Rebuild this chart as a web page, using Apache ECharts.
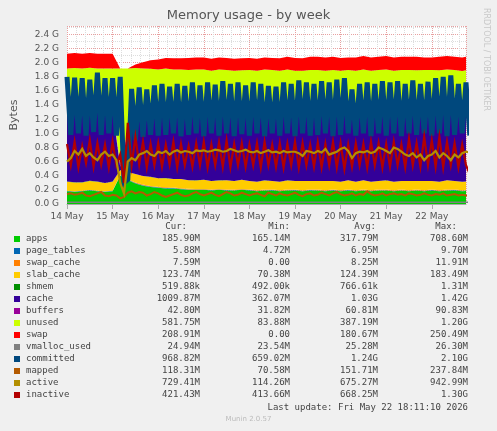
<!DOCTYPE html>
<html><head><meta charset="utf-8">
<script src="https://cdn.jsdelivr.net/npm/echarts@6/dist/echarts.min.js"></script>
<style>html,body{margin:0;padding:0;background:#F0F0F0}#c{width:497px;height:431px}</style>
</head><body><div id="c"></div>
<script>
// ---- data (values in G bytes) ----
const names = ['apps','page_tables','swap_cache','slab_cache','shmem','cache','buffers','unused','swap','vmalloc_used','committed','mapped','active','inactive'];
const colors = ['#00CC00','#0066B3','#FF8000','#FFCC00','#008F00','#330099','#990099','#CCFF00','#FF0000','#808080','#00487D','#B35A00','#B38F00','#B30000'];
const curVals = ['185.90M','5.88M','7.59M','123.74M','519.88k','1009.87M','42.80M','581.75M','208.91M','24.94M','968.82M','118.31M','729.41M','421.43M'];
const minVals = ['165.14M','4.72M','0.00','70.38M','492.00k','362.07M','31.82M','83.88M','0.00','23.54M','659.02M','70.58M','114.26M','413.66M'];
const avgVals = ['317.79M','6.95M','8.25M','124.39M','766.61k','1.03G','60.81M','387.19M','180.67M','25.28M','1.24G','151.71M','675.27M','668.25M'];
const maxVals = ['708.60M','9.70M','11.91M','183.49M','1.31M','1.42G','90.83M','1.20G','250.49M','26.30M','2.10G','237.84M','942.99M','1.30G'];

// stacked series, one sample every 4 hours from 14 May 00:00
const apps = [0.18,0.17,0.18,0.19,0.18,0.17, 0.18,0.40,0.34,0.29,0.26,0.24, 0.23,0.22,0.22,0.21,0.20,0.20, 0.20,0.19,0.20,0.19,0.19,0.20, 0.19,0.18,0.19,0.19,0.18,0.19, 0.19,0.18,0.19,0.19,0.18,0.19, 0.18,0.19,0.18,0.19,0.18,0.19, 0.19,0.18,0.19,0.18,0.19,0.18, 0.19,0.18,0.19,0.19,0.18,0.19];
const page_tables = [0.006,0.006,0.006,0.007,0.006,0.006, 0.006,0.005,0.006,0.006,0.007,0.006, 0.006,0.007,0.006,0.006,0.007,0.006, 0.006,0.007,0.006,0.007,0.006,0.006, 0.007,0.006,0.006,0.007,0.006,0.006, 0.007,0.006,0.007,0.006,0.006,0.007, 0.006,0.007,0.006,0.006,0.007,0.006, 0.006,0.007,0.006,0.007,0.006,0.006, 0.007,0.006,0.006,0.007,0.006,0.006];
const swap_cache = [0.000,0.000,0.000,0.000,0.000,0.000, 0.000,0.002,0.006,0.008,0.009,0.008, 0.008,0.009,0.008,0.008,0.009,0.008, 0.008,0.009,0.008,0.008,0.009,0.008, 0.008,0.009,0.008,0.009,0.008,0.008, 0.009,0.008,0.008,0.009,0.008,0.008, 0.009,0.008,0.008,0.009,0.008,0.009, 0.008,0.008,0.009,0.008,0.008,0.009, 0.008,0.008,0.009,0.008,0.008,0.008];
const slab_cache = [0.13,0.13,0.12,0.13,0.13,0.12, 0.13,0.07,0.10,0.12,0.12,0.13, 0.12,0.13,0.12,0.13,0.12,0.12, 0.13,0.12,0.12,0.13,0.12,0.13, 0.12,0.12,0.13,0.12,0.12,0.13, 0.12,0.13,0.12,0.12,0.13,0.12, 0.12,0.13,0.12,0.13,0.12,0.12, 0.13,0.12,0.12,0.13,0.12,0.13, 0.12,0.12,0.13,0.12,0.12,0.12];
const shmem = [0.0008,0.0008,0.0008,0.0008,0.0008,0.0008, 0.0008,0.0006,0.0006,0.0007,0.0007,0.0008, 0.0008,0.0007,0.0008,0.0007,0.0008,0.0007, 0.0008,0.0007,0.0008,0.0007,0.0008,0.0007, 0.0008,0.0007,0.0008,0.0007,0.0008,0.0007, 0.0008,0.0007,0.0008,0.0007,0.0008,0.0007, 0.0008,0.0007,0.0008,0.0007,0.0008,0.0007, 0.0008,0.0007,0.0008,0.0007,0.0008,0.0007, 0.0008,0.0007,0.0006,0.0005,0.0005,0.0005];
const cache = [1.00,1.01,1.00,1.02,1.01,1.00, 1.00,0.05,0.55,0.85,0.95,0.97, 0.98,0.99,1.00,0.99,1.00,1.01, 1.00,0.99,1.01,1.00,0.99,1.00, 1.01,1.00,0.99,1.00,1.01,1.00, 0.99,1.00,1.01,1.00,0.99,1.00, 1.01,1.00,0.99,1.01,1.00,0.99, 1.00,1.01,1.00,0.99,1.00,1.01, 1.00,0.99,1.01,1.00,1.01,1.01];
const buffers = [0.04,0.04,0.04,0.05,0.04,0.04, 0.04,0.03,0.035,0.04,0.04,0.04, 0.04,0.05,0.04,0.04,0.04,0.05, 0.04,0.04,0.05,0.04,0.04,0.04, 0.05,0.04,0.04,0.04,0.05,0.04, 0.04,0.04,0.05,0.04,0.04,0.04, 0.05,0.04,0.04,0.04,0.05,0.04, 0.04,0.05,0.04,0.04,0.04,0.05, 0.04,0.04,0.04,0.05,0.04,0.04];
const unused = [0.56,0.57,0.57,0.53,0.55,0.58, 0.56,1.36,0.88,0.61,0.53,0.52, 0.52,0.51,0.51,0.52,0.52,0.51, 0.52,0.53,0.51,0.52,0.53,0.51, 0.51,0.53,0.54,0.53,0.51,0.53, 0.53,0.52,0.51,0.53,0.53,0.53, 0.51,0.52,0.54,0.52,0.52,0.54, 0.53,0.51,0.53,0.54,0.53,0.51, 0.53,0.55,0.52,0.52,0.52,0.53];
const swap = [0.21,0.21,0.21,0.21,0.21,0.21, 0.21,0.00,0.00,0.05,0.09,0.12, 0.14,0.15,0.16,0.16,0.17,0.17, 0.17,0.17,0.17,0.17,0.17,0.17, 0.17,0.17,0.17,0.17,0.18,0.18, 0.18,0.18,0.19,0.19,0.19,0.19, 0.18,0.18,0.19,0.19,0.19,0.19, 0.19,0.19,0.19,0.19,0.19,0.18, 0.18,0.19,0.19,0.19,0.19,0.19];
const vmalloc_used = [0.025,0.025,0.025,0.025,0.025,0.025, 0.025,0.024,0.024,0.025,0.025,0.025, 0.025,0.025,0.025,0.025,0.025,0.025, 0.025,0.025,0.025,0.025,0.025,0.025, 0.025,0.025,0.025,0.025,0.025,0.025, 0.025,0.025,0.025,0.025,0.025,0.025, 0.025,0.025,0.025,0.025,0.025,0.025, 0.025,0.025,0.025,0.025,0.025,0.025, 0.025,0.025,0.025,0.025,0.025,0.025];

// line series, one sample every 2 hours from 14 May 00:00
const committed = [1.80,0.98,1.79,1.00,1.78,0.97,1.76,1.02,1.86,0.98,1.78,1.00,
 1.78,0.97,1.80,0.30,0.35,1.63,0.90,1.65,0.95,1.62,0.98,1.68,
 0.97,1.70,0.98,1.66,1.00,1.70,0.96,1.67,0.98,1.72,1.00,1.68,
 0.96,1.72,1.00,1.69,0.97,1.74,1.00,1.70,0.96,1.72,0.99,1.68,
 0.97,1.72,1.00,1.70,0.96,1.67,1.00,1.66,0.97,1.72,1.00,1.70,
 0.96,1.75,1.00,1.72,0.97,1.70,0.98,1.74,1.00,1.72,0.96,1.76,
 0.98,1.78,1.00,1.62,0.97,1.70,1.00,1.72,0.96,1.70,1.00,1.74,
 0.97,1.72,1.00,1.74,0.96,1.70,1.00,1.75,0.98,1.70,1.00,1.73,
 0.97,1.78,1.00,1.80,0.96,1.82,0.98,1.70,1.00,1.72,0.97];
const inactive = [0.85,0.55,0.88,0.52,0.82,0.58,0.90,0.53,0.86,0.56,0.84,0.52,
 0.88,0.55,0.70,0.30,1.15,0.55,0.95,0.56,0.88,0.52,0.85,0.55,
 0.86,0.53,0.84,0.56,0.88,0.52,0.85,0.55,0.82,0.53,0.86,0.55,
 0.88,0.52,0.84,0.55,0.87,0.53,0.90,0.52,0.85,0.55,0.86,0.53,
 0.84,0.55,0.86,0.52,0.88,0.55,0.84,0.53,0.86,0.52,0.85,0.55,
 0.88,0.52,0.86,0.55,0.84,0.53,0.87,0.52,0.85,0.55,0.88,0.52,
 0.86,0.50,0.84,0.53,0.86,0.55,0.85,0.52,0.88,0.55,0.86,0.52,
 0.85,0.53,0.88,0.55,0.84,0.52,0.92,0.55,0.86,0.53,0.95,0.55,
 0.90,0.53,0.95,0.52,0.88,0.55,0.86,0.52,0.84,0.55,0.42];
const active = [0.60,0.65,0.75,0.70,0.78,0.68,0.72,0.66,0.62,0.70,0.74,0.68,
 0.70,0.62,0.30,0.15,0.60,0.65,0.62,0.70,0.72,0.75,0.70,0.68,
 0.74,0.72,0.75,0.70,0.74,0.76,0.73,0.75,0.74,0.72,0.76,0.75,
 0.76,0.74,0.75,0.77,0.76,0.74,0.75,0.78,0.76,0.74,0.75,0.77,
 0.74,0.73,0.75,0.72,0.74,0.76,0.73,0.74,0.72,0.75,0.73,0.74,
 0.74,0.72,0.68,0.75,0.74,0.72,0.75,0.73,0.78,0.70,0.72,0.74,
 0.78,0.80,0.75,0.65,0.72,0.74,0.73,0.75,0.72,0.74,0.80,0.78,
 0.75,0.72,0.80,0.78,0.74,0.70,0.68,0.72,0.66,0.70,0.62,0.68,
 0.70,0.75,0.66,0.72,0.68,0.62,0.70,0.66,0.72,0.74,0.73];
const mapped = [0.14,0.15,0.13,0.14,0.16,0.12,0.11,0.13,0.15,0.17,0.12,0.11,
 0.13,0.12,0.08,0.10,0.16,0.18,0.15,0.17,0.16,0.12,0.14,0.17,
 0.15,0.12,0.10,0.12,0.14,0.16,0.13,0.11,0.12,0.15,0.17,0.14,
 0.12,0.14,0.16,0.13,0.11,0.14,0.17,0.15,0.12,0.13,0.16,0.14,
 0.12,0.14,0.15,0.13,0.11,0.16,0.14,0.12,0.15,0.13,0.12,0.14,
 0.16,0.13,0.11,0.14,0.15,0.12,0.13,0.16,0.14,0.12,0.15,0.17,
 0.14,0.12,0.13,0.15,0.12,0.14,0.13,0.18,0.14,0.12,0.13,0.15,
 0.12,0.14,0.15,0.13,0.14,0.12,0.15,0.14,0.12,0.13,0.15,0.13,
 0.12,0.14,0.13,0.15,0.12,0.13,0.14,0.12,0.13,0.12,0.12];

// ---- chart ----
const H = 3600*1000;
const t0 = new Date(2026,4,14,0,0,0).getTime();
const tMax = new Date(2026,4,22,18,0,0).getTime();
const pairs = (arr, stepH) => arr.map((v,i)=>[t0 + i*stepH*H, v*1e9]);
const stackArrays = [apps,page_tables,swap_cache,slab_cache,shmem,cache,buffers,unused,swap];
const lineArrays = [[vmalloc_used,4,1.5],[committed,2,5],[mapped,2,2],[inactive,2,2.2],[active,2,2.2]];
const lineIdx = [9,10,11,13,12];
const series = [];
stackArrays.forEach((a,i)=>series.push({name:names[i],type:'line',stack:'mem',data:pairs(a,4),
  symbol:'none',lineStyle:{width:0},areaStyle:{color:colors[i],opacity:1},itemStyle:{color:colors[i]}}));
lineArrays.forEach((p,j)=>{const i=lineIdx[j];series.push({name:names[i],type:'line',data:pairs(p[0],p[1]),
  symbol:'none',lineStyle:{width:p[2],color:colors[i],join:'miter'},itemStyle:{color:colors[i]}});});

const mono = 'DejaVu Sans Mono';
const graphic = [
  {type:'text',left:'center',top:9,style:{text:'Memory usage - by week',font:'13px DejaVu Sans',fill:'#555'}},
  {type:'text',x:490,y:8,rotation:-Math.PI/2,style:{text:'RRDTOOL / TOBI OETIKER',font:'8px DejaVu Sans',fill:'#c8c8c8'}},
  {type:'text',x:187,y:222,style:{text:'Cur:',font:'9px '+mono,fill:'#444',align:'right'}},
  {type:'text',x:290,y:222,style:{text:'Min:',font:'9px '+mono,fill:'#444',align:'right'}},
  {type:'text',x:376,y:222,style:{text:'Avg:',font:'9px '+mono,fill:'#444',align:'right'}},
  {type:'text',x:457,y:222,style:{text:'Max:',font:'9px '+mono,fill:'#444',align:'right'}},
  {type:'text',x:468,y:403,style:{text:'Last update: Fri May 22 18:11:10 2026',font:'9px '+mono,fill:'#444',align:'right'}},
  {type:'text',left:'center',top:416,style:{text:'Munin 2.0.57',font:'7px DejaVu Sans',fill:'#bbb'}}
];
names.forEach((n,i)=>{
  const y = 235 + i*12;
  graphic.push({type:'rect',shape:{x:14,y:y+1,width:6,height:6},style:{fill:colors[i]}});
  graphic.push({type:'text',x:26,y:y-1,style:{text:n,font:'9px '+mono,fill:'#444'}});
  graphic.push({type:'text',x:200,y:y-1,style:{text:curVals[i],font:'9px '+mono,fill:'#444',align:'right'}});
  graphic.push({type:'text',x:290,y:y-1,style:{text:minVals[i],font:'9px '+mono,fill:'#444',align:'right'}});
  graphic.push({type:'text',x:378,y:y-1,style:{text:avgVals[i],font:'9px '+mono,fill:'#444',align:'right'}});
  graphic.push({type:'text',x:468,y:y-1,style:{text:maxVals[i],font:'9px '+mono,fill:'#444',align:'right'}});
});

const chart = echarts.init(document.getElementById('c'),null,{renderer:'canvas'});
chart.setOption({
  animation:false,
  backgroundColor:'#F0F0F0',
  grid:{left:67,right:31,top:26,bottom:227,backgroundColor:'#fff',show:true,borderWidth:0},
  xAxis:{type:'time',min:t0,max:tMax,interval:24*H,
    axisLine:{lineStyle:{color:'#aaa'}},axisTick:{show:true,lineStyle:{color:'#aaa'}},
    axisLabel:{color:'#555',fontSize:9,fontFamily:'DejaVu Sans',hideOverlap:false,
      formatter:v=>{const d=new Date(v);return d.getDate()+' May';}},
    splitLine:{show:true,lineStyle:{color:'#e8a0a0',type:'dotted',width:1}},
    minorTick:{show:false},minorSplitLine:{show:true,lineStyle:{color:'#ddd',type:'dotted'}}},
  yAxis:{type:'value',min:0,max:2.52e9,interval:0.2e9,name:'Bytes',nameLocation:'middle',nameGap:47,
    nameTextStyle:{color:'#555',fontSize:11,fontFamily:'DejaVu Sans'},
    axisLine:{show:false},axisTick:{show:false},
    axisLabel:{color:'#555',fontSize:9,fontFamily:'DejaVu Sans',showMaxLabel:false,
      formatter:v=>(v/1e9).toFixed(1)+' G'},
    splitLine:{show:true,lineStyle:{color:'#e8a0a0',type:'dotted',width:1}},
    minorSplitLine:{show:true,lineStyle:{color:'#ddd',type:'dotted'}},minorTick:{splitNumber:2}},
  series:series,
  graphic:graphic
});
</script></body></html>
